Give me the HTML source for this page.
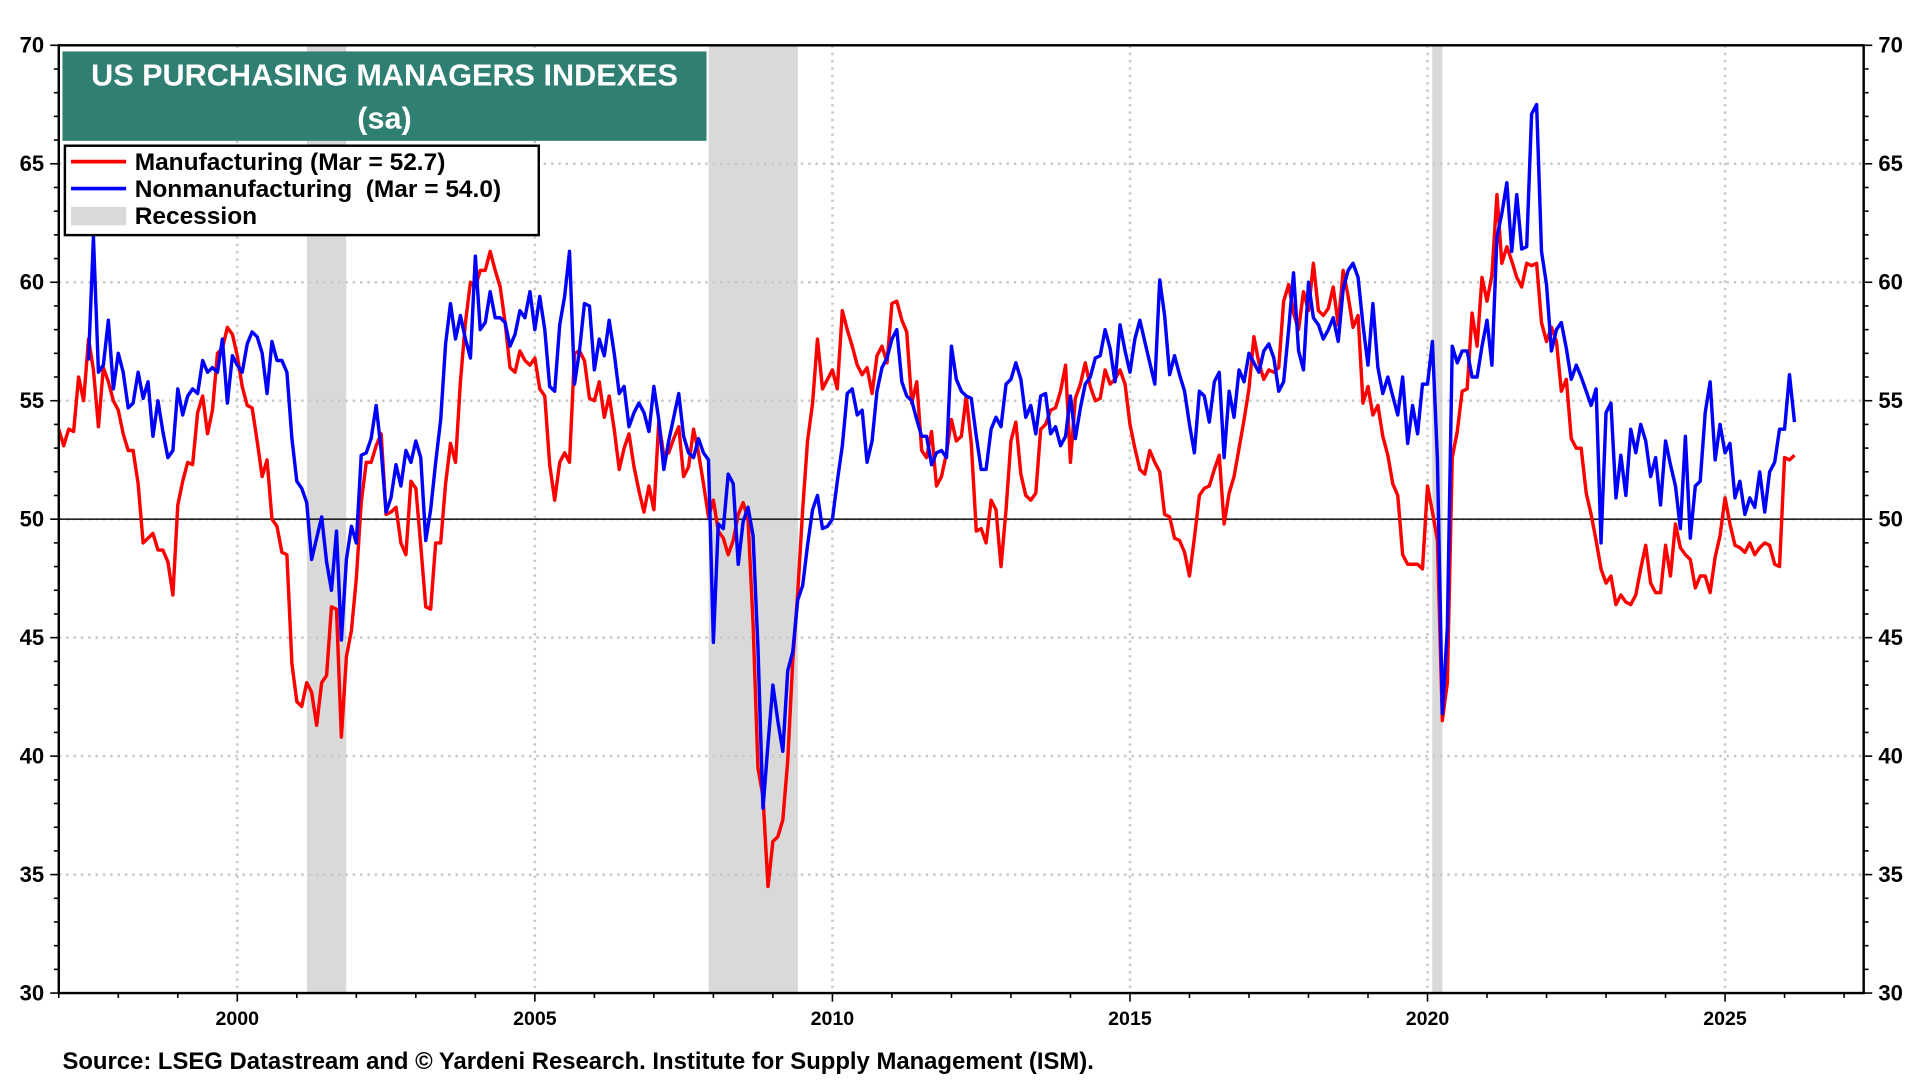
<!DOCTYPE html>
<html><head><meta charset="utf-8"><style>
html,body{margin:0;padding:0;background:#fff;}
svg{display:block;font-family:"Liberation Sans",Arial,sans-serif;}
</style></head><body>
<svg id="chart" width="1920" height="1080" viewBox="0 0 1568 882" xmlns="http://www.w3.org/2000/svg">
<g id="layer"></g>
</svg>
<script>
const startYear = 1997;
const recessions = [[2001.17, 2001.83], [2007.92, 2009.42], [2020.08, 2020.25]];
const yTicks = [30, 35, 40, 45, 50, 55, 60, 65, 70];
const xTickYears = [2000, 2005, 2010, 2015, 2020, 2025];
const manufacturing = [
53.8,53.1,53.8,53.7,56.0,55.0,57.6,56.3,53.9,56.4,55.8,55.0,
54.6,53.6,52.9,52.9,51.5,49.0,49.2,49.4,48.7,48.7,48.2,46.8,
50.6,51.6,52.4,52.3,54.5,55.2,53.6,54.6,57.0,57.2,58.1,57.8,
56.9,55.6,54.8,54.7,53.3,51.8,52.5,50.0,49.7,48.6,48.5,43.9,
42.3,42.1,43.1,42.7,41.3,43.1,43.4,46.3,46.2,40.8,44.2,45.3,
47.5,50.7,52.4,52.4,53.1,53.6,50.2,50.3,50.5,49.0,48.5,51.6,
51.3,48.9,46.3,46.2,49.0,49.0,51.5,53.2,52.4,55.8,58.3,60.0,
59.8,60.5,60.5,61.3,60.5,59.8,58.3,56.4,56.2,57.1,56.7,56.5,
56.8,55.5,55.2,52.3,50.8,52.4,52.8,52.4,57.0,57.1,56.7,55.1,
55.0,55.8,54.3,55.2,53.8,52.1,53.0,53.6,52.2,51.2,50.3,51.4,
50.4,54.1,52.7,52.8,53.4,53.9,51.8,52.2,53.8,52.8,51.5,50.1,
50.8,49.5,49.2,48.5,49.1,50.2,50.7,50.0,45.6,39.5,38.3,34.5,
36.4,36.6,37.3,39.8,44.0,46.9,50.4,53.3,54.9,57.6,55.5,55.9,
56.3,55.5,58.8,58.0,57.3,56.5,56.1,56.4,55.3,56.9,57.3,56.6,
59.1,59.2,58.4,57.9,54.9,55.8,52.9,52.6,53.7,51.4,51.8,52.8,
54.2,53.3,53.5,55.2,53.2,49.5,49.6,49.0,50.8,50.4,48.0,50.4,
53.3,54.1,51.9,51.0,50.8,51.1,53.8,54.0,54.6,54.7,55.4,56.5,
52.4,55.1,55.7,56.6,55.6,55.0,55.1,56.3,55.7,55.9,56.3,55.7,
54.0,53.0,52.1,51.9,52.9,52.4,52.0,50.2,50.1,49.2,49.1,48.6,
47.6,49.2,51.0,51.3,51.4,52.1,52.7,49.8,51.1,51.8,53.0,54.2,
55.5,57.7,56.6,55.9,56.3,56.2,56.4,59.2,59.9,58.7,58.0,59.6,
58.8,60.8,58.8,58.6,58.9,59.8,58.2,60.5,59.4,58.1,58.6,54.9,
55.6,54.4,54.8,53.5,52.7,51.5,51.0,48.5,48.1,48.1,48.1,47.9,
51.4,50.3,49.1,41.5,43.1,52.6,53.7,55.4,55.5,58.7,57.3,60.2,
59.2,60.3,63.7,60.8,61.5,60.9,60.2,59.8,60.8,60.7,60.8,58.3,
57.5,58.1,57.5,55.4,55.9,53.4,53.0,53.0,51.1,50.2,49.1,47.9,
47.3,47.6,46.4,46.8,46.5,46.4,46.8,47.9,48.9,47.3,46.9,46.9,
48.9,47.6,49.8,48.8,48.5,48.3,47.1,47.6,47.6,46.9,48.4,49.3,
50.9,49.8,48.9,48.8,48.6,49.0,48.5,48.8,49.0,48.9,48.1,48.0,
52.6,52.5,52.7];
const nonmanufacturing = [
null,null,null,null,null,null,56.7,61.9,56.2,56.5,58.4,55.5,
57.0,56.2,54.7,54.9,56.2,55.1,55.8,53.5,55.0,53.7,52.6,52.9,
55.5,54.4,55.2,55.5,55.3,56.7,56.2,56.4,56.2,57.6,54.9,56.9,
56.5,56.2,57.4,57.9,57.7,57.0,55.3,57.5,56.7,56.7,56.2,53.4,
51.6,51.3,50.7,48.3,49.2,50.1,48.2,47.0,49.5,44.9,48.3,49.7,
49.0,52.7,52.8,53.4,54.8,52.9,50.3,50.9,52.3,51.4,52.9,52.4,
53.3,52.6,49.1,50.4,52.4,54.2,57.4,59.1,57.6,58.6,57.6,56.8,
61.1,58.0,58.3,59.6,58.5,58.5,58.3,57.3,57.8,58.8,58.5,59.6,
58.0,59.4,58.0,55.6,55.4,58.2,59.4,61.3,55.7,57.1,59.1,59.0,
56.3,57.6,56.9,58.4,57.0,55.3,55.6,53.9,54.5,54.9,54.5,53.7,
55.6,54.2,52.1,53.3,54.3,55.3,53.5,52.8,52.6,53.4,52.8,52.5,
44.8,49.8,49.6,51.9,51.5,48.1,49.9,50.5,49.3,44.6,37.8,40.5,
43.0,41.5,40.2,43.6,44.4,46.6,47.2,48.9,50.4,51.0,49.6,49.7,
50.0,51.6,53.1,55.3,55.5,54.4,54.6,52.4,53.3,55.4,56.4,56.8,
57.6,58.0,55.8,55.2,55.0,54.2,53.5,53.5,52.3,52.8,52.9,52.6,
57.3,55.9,55.4,55.2,55.1,53.5,52.1,52.1,53.8,54.3,53.9,55.7,
55.9,56.6,55.9,54.3,54.8,53.6,55.2,55.3,53.6,53.9,53.1,53.5,
55.2,53.4,54.7,55.7,56.0,56.8,56.9,58.0,57.2,55.8,58.2,57.1,
56.2,57.6,58.4,57.5,56.6,55.7,60.1,58.6,56.1,56.9,56.1,55.4,
54.0,52.8,55.4,55.2,54.1,55.8,56.2,52.6,55.4,54.3,56.3,55.8,
57.0,56.6,56.2,57.1,57.4,56.8,55.4,55.8,58.0,60.4,57.1,56.3,
60.0,58.5,58.2,57.6,58.0,58.5,57.5,59.7,60.5,60.8,60.2,58.2,
56.5,59.1,56.4,55.3,56.0,55.2,54.4,56.0,53.2,54.8,53.6,55.7,
55.7,57.5,52.5,41.8,45.4,57.3,56.6,57.1,57.1,56.0,56.0,57.3,
58.4,56.5,61.9,62.9,64.2,61.3,63.7,61.4,61.5,67.1,67.5,61.3,
59.9,57.1,58.0,58.3,57.2,55.9,56.5,56.0,55.4,54.8,55.5,49.0,
54.5,54.9,50.9,52.7,51.0,53.8,52.8,54.0,53.3,51.8,52.6,50.6,
53.3,52.3,51.4,49.6,53.5,49.2,51.4,51.6,54.5,55.8,52.5,54.0,
52.8,53.2,50.9,51.6,50.2,50.9,50.5,52.0,50.3,52.0,52.4,53.8,
53.8,56.1,54.1];

const L=48,R=1522,T=37,B=811, yMin=30,yMax=70, xMin=1997, xMax=1997+(R-L)/48.6;
const xs = yr => L + (yr - xMin) / (xMax - xMin) * (R - L);
const ys = v => B - (v - yMin) / (yMax - yMin) * (B - T);
const NS="http://www.w3.org/2000/svg";
const g=document.getElementById('layer');
function mk(tag, attrs, parent){const e=document.createElementNS(NS,tag);for(const k in attrs)e.setAttribute(k,attrs[k]);(parent||g).appendChild(e);return e;}

recessions.forEach(r=>{
  const e=mk('rect',{x:xs(r[0]),y:T,width:xs(r[1])-xs(r[0]),height:B-T,fill:'#d9d9d9'});
  
  
});
yTicks.forEach(v=>{
  if(v===yMin||v===yMax)return;
  const e=mk('line',{x1:L,x2:R,y1:ys(v),y2:ys(v),stroke:'#c8c8c8','stroke-width':2,'stroke-dasharray':'2,4'});
  
  
});
xTickYears.forEach(y=>{
  const e=mk('line',{x1:xs(y),x2:xs(y),y1:T,y2:B,stroke:'#c8c8c8','stroke-width':2,'stroke-dasharray':'2,4'});
  
  
});
const fifty=mk('line',{x1:L,x2:R,y1:ys(50),y2:ys(50),stroke:'#222','stroke-width':1.3});



function series(data,color,name){
  let d='';let pen=false;
  data.forEach((v,i)=>{
    if(v===null){pen=false;return;}
    const x=xs(startYear+i/12),y=ys(v);
    d+=(pen?'L':'M')+x.toFixed(1)+','+y.toFixed(1);pen=true;
  });
  const e=mk('path',{d:d,fill:'none',stroke:color,'stroke-width':2.8,'stroke-linejoin':'round'});
  
  
}
series(manufacturing,'#ff0000','manufacturing-line');
series(nonmanufacturing,'#0000ff','nonmanufacturing-line');

const fr=mk('rect',{x:L,y:T,width:R-L,height:B-T,fill:'none',stroke:'#000','stroke-width':2});


for(let v=yMin;v<=yMax;v++){
  const len=(v%5===0)?7:4;
  mk('line',{x1:L-len,x2:L,y1:ys(v),y2:ys(v),stroke:'#000','stroke-width':1.3});
  mk('line',{x1:R,x2:R+len,y1:ys(v),y2:ys(v),stroke:'#000','stroke-width':1.3});
}
for(let y=Math.ceil(xMin);y<=Math.floor(xMax);y++){
  const len=xTickYears.includes(y)?7:4;
  mk('line',{x1:xs(y),x2:xs(y),y1:B,y2:B+len,stroke:'#000','stroke-width':1.3});
}
yTicks.forEach(v=>{
  const a=mk('text',{x:L-12,y:ys(v)+6,'text-anchor':'end','font-size':18,'font-weight':'bold'});
  a.textContent=v;
  
  
  const b=mk('text',{x:R+12,y:ys(v)+6,'text-anchor':'start','font-size':18,'font-weight':'bold'});
  b.textContent=v;
  
  
});
xTickYears.forEach(y=>{
  const t=mk('text',{x:xs(y),y:B+26,'text-anchor':'middle','font-size':16,'font-weight':'bold'});
  t.textContent=y;
  
  
});
</script>
<svg x="0" y="0" width="1920" height="1080" viewBox="0 0 1568 882" style="position:absolute;left:0;top:0" xmlns="http://www.w3.org/2000/svg">
<rect x="51" y="42" width="526" height="73" fill="#2f7f73"/>
<text x="314" y="70" text-anchor="middle" fill="#fff" font-size="25" font-weight="bold" font-family="Liberation Sans, sans-serif">US PURCHASING MANAGERS INDEXES</text>
<text x="314" y="105" text-anchor="middle" fill="#fff" font-size="25" font-weight="bold" font-family="Liberation Sans, sans-serif">(sa)</text>
<g font-family="Liberation Sans, sans-serif" font-weight="bold" font-size="20">
<rect x="53" y="119" width="387" height="73" fill="#fff" stroke="#000" stroke-width="2"/>
<line x1="58" x2="103" y1="132" y2="132" stroke="#ff0000" stroke-width="3"/>
<text x="110" y="139">Manufacturing (Mar = 52.7)</text>
<line x1="58" x2="103" y1="154" y2="154" stroke="#0000ff" stroke-width="3"/>
<text x="110" y="161">Nonmanufacturing &#160;(Mar = 54.0)</text>
<rect x="58" y="169" width="45" height="15" fill="#d9d9d9"/>
<text x="110" y="183">Recession</text>
</g>
<text x="51" y="873" font-size="19.5" font-weight="bold" font-family="Liberation Sans, sans-serif">Source: LSEG Datastream and © Yardeni Research. Institute for Supply Management (ISM).</text>
</svg>
</body></html>
